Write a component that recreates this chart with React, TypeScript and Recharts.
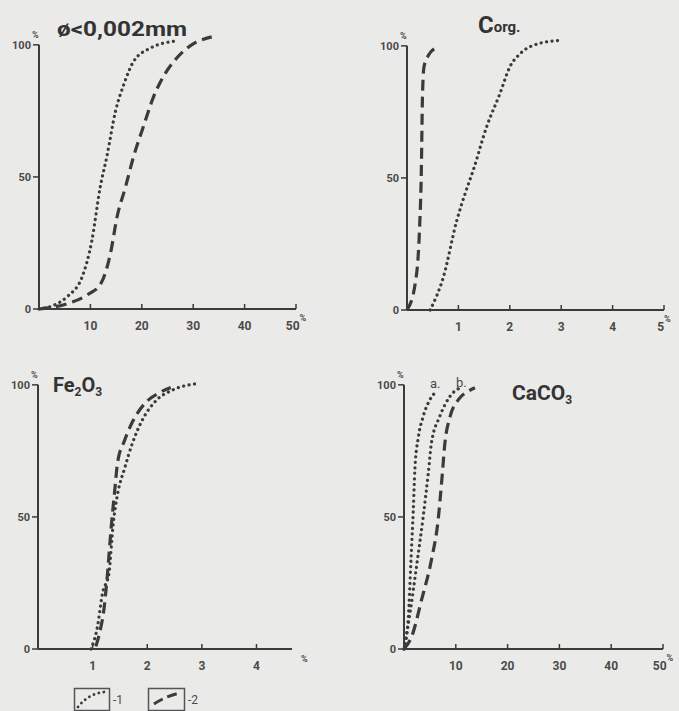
import { LineChart, Line, XAxis, YAxis, ReferenceLine } from 'recharts';

type Pt = { x: number; y: number };

const INK = '#3b3b3b';
const TXT = '#4a4a4a';
const BG = '#eaeae8';
const Y_MAX = 106; // a little room above 100 so the curve ends are not cut

const p = (pairs: number[][]): Pt[] => pairs.map(([x, y]) => ({ x, y }));

// ø < 0,002 mm
const clayDotted = p([[0, 0], [3, 1.5], [5.5, 4.7], [8.4, 12.2], [10.3, 26], [11.9, 46], [13.2, 57.7], [14.9, 75], [16.5, 85], [18.4, 93.7], [21.6, 98.7], [26.8, 101.5]]);
const clayDashed = p([[0, 0], [5.5, 2], [9.5, 5.5], [12, 9.5], [13.9, 21], [15.2, 35], [16.8, 46], [18.4, 57.7], [20.3, 69], [22.3, 80.4], [24.2, 88], [26.8, 95], [29.7, 100], [33.6, 103]]);
const clayTicks = [10, 20, 30, 40, 50];

// C org.
const corgDotted = p([[0.45, 0], [0.71, 12.6], [0.97, 34], [1.13, 44], [1.29, 53], [1.55, 69.4], [1.81, 82], [2.0, 92], [2.2, 97], [2.59, 101], [2.94, 102]]);
const corgDashed = p([[0, 0], [0.16, 10], [0.24, 29], [0.28, 54], [0.3, 80], [0.33, 92], [0.42, 96.5], [0.54, 99]]);
const corgTicks = [1, 2, 3, 4, 5];

// Fe2O3
const feDotted = p([[0.97, 0], [1.09, 8.6], [1.18, 21], [1.3, 28.7], [1.37, 46], [1.46, 59], [1.58, 68], [1.73, 78], [1.91, 86.7], [2.16, 94], [2.46, 98], [2.92, 100.5]]);
const feDashed = p([[1.06, 1], [1.12, 5.5], [1.21, 15.5], [1.27, 28], [1.34, 46], [1.4, 59], [1.46, 71], [1.58, 78.7], [1.73, 86], [1.98, 93.5], [2.22, 97], [2.43, 99]]);
const feTicks = [1, 2, 3, 4];

// CaCO3 (a, b dotted)
const caDottedA = p([[0, 0], [0.8, 11], [1.35, 34], [1.8, 53], [2.1, 68], [2.8, 80.5], [3.7, 88], [5.0, 94.4], [6.3, 97.6]]);
const caDottedB = p([[0, 0], [1.16, 13.6], [2.4, 31], [3.7, 50], [4.7, 66.7], [5.3, 78], [6.9, 88], [8.9, 95.7], [10.8, 98.9]]);
const caDashed = p([[0, 0], [1.5, 4.8], [3.4, 18.7], [5.3, 33.8], [6.6, 49], [7.3, 64], [7.9, 78], [8.9, 88], [10.5, 94.4], [12.4, 97.6], [13.7, 98.9]]);
const caTicks = [10, 20, 30, 40, 50];

const yTicks = [0, 50, 100];

const tickFont = { fontFamily: 'Roboto, "Liberation Sans", sans-serif', fontWeight: 700, fontSize: 12, fill: TXT };

const XTick = (props: any) => {
  const { x, y, payload, pct } = props;
  return (
    <g>
      <line x1={x} x2={x} y1={y} y2={y - 5} stroke={INK} strokeWidth={1.5} />
      <text x={x} y={y + 21} textAnchor="middle" {...tickFont}>
        {payload.value}
        {pct === payload.value && <tspan dx={0} dy={-9} fontSize={9}>%</tspan>}
      </text>
    </g>
  );
};

const YTick = (props: any) => {
  const { x, y, payload } = props;
  return (
    <g>
      <line x1={x - 6} x2={x} y1={y} y2={y} stroke={INK} strokeWidth={1.5} />
      <text x={x - 8} y={y + 4} textAnchor="end" {...tickFont} fontSize={11}>{payload.value}</text>
      {payload.value === 100 && <text x={x - 7} y={y - 7} {...tickFont} fontSize={9}>%</text>}
    </g>
  );
};

type PanelProps = {
  left: number; top: number; width: number; height: number;
  yAxisW: number; mTop: number; mRight: number;
  xMax: number; xTicks: number[]; pct?: number;
  dotted: Pt[][]; dashed: Pt[][];
};

function Panel(pp: PanelProps) {
  return (
    <div style={{ position: 'absolute', left: pp.left, top: pp.top }}>
      <LineChart width={pp.width} height={pp.height} margin={{ top: pp.mTop, right: pp.mRight, bottom: 0, left: 0 }}>
        <XAxis type="number" dataKey="x" domain={[0, pp.xMax]} ticks={pp.xTicks} height={30}
          tickSize={0} tickMargin={0} tickLine={false} axisLine={{ stroke: INK, strokeWidth: 2 }}
          tick={(t: any) => <XTick {...t} pct={pp.pct} />} interval={0} />
        <YAxis type="number" domain={[0, Y_MAX]} ticks={yTicks} width={pp.yAxisW}
          tickSize={0} tickMargin={0} tickLine={false} axisLine={false}
          tick={(t: any) => <YTick {...t} />} interval={0} />
        <ReferenceLine segment={[{ x: 0, y: 0 }, { x: 0, y: 100 }]} stroke={INK} strokeWidth={2} />
        {pp.dotted.map((d, i) => (
          <Line key={'dot' + i} data={d} dataKey="y" type="monotone" dot={false} stroke={INK}
            strokeWidth={3.2} strokeDasharray="0.1 5.4" strokeLinecap="round" isAnimationActive={false} />
        ))}
        {pp.dashed.map((d, i) => (
          <Line key={'dash' + i} data={d} dataKey="y" type="monotone" dot={false} stroke={INK}
            strokeWidth={3.2} strokeDasharray="11 6" isAnimationActive={false} />
        ))}
      </LineChart>
    </div>
  );
}

const titleFont = { fontFamily: 'Roboto, "Liberation Sans", sans-serif', fontWeight: 700, fill: '#333' };

export default function App() {
  return (
    <div style={{ position: 'absolute', left: 0, top: 0, width: 679, height: 711, background: BG, overflow: 'hidden' }}>
      <Panel left={0} top={0} width={320} height={339} yAxisW={39} mTop={29} mRight={24}
        xMax={50} xTicks={clayTicks} pct={50} dotted={[clayDotted]} dashed={[clayDashed]} />
      <Panel left={341} top={0} width={338} height={340} yAxisW={66} mTop={30} mRight={15}
        xMax={5} xTicks={corgTicks} pct={5} dotted={[corgDotted]} dashed={[corgDashed]} />
      <Panel left={0} top={340} width={312} height={339} yAxisW={38} mTop={29} mRight={20}
        xMax={4.65} xTicks={feTicks} dotted={[feDotted]} dashed={[feDashed]} />
      <Panel left={340} top={340} width={339} height={339} yAxisW={64} mTop={29} mRight={16}
        xMax={50} xTicks={caTicks} pct={50} dotted={[caDottedA, caDottedB]} dashed={[caDashed]} />

      <svg width={679} height={711} style={{ position: 'absolute', left: 0, top: 0, pointerEvents: 'none' }}>
        <text x={57} y={36} fontSize={21} textLength={130} lengthAdjust="spacingAndGlyphs" {...titleFont}>ø&lt;0,002mm</text>
        <text x={478} y={33} {...titleFont}>
          <tspan fontSize={24}>C</tspan>
          <tspan fontSize={15} dy={-1}>org.</tspan>
        </text>
        <text x={53} y={392} {...titleFont}>
          <tspan fontSize={20}>Fe</tspan>
          <tspan fontSize={12} dy={4}>2</tspan>
          <tspan fontSize={20} dy={-4}>O</tspan>
          <tspan fontSize={12} dy={4}>3</tspan>
        </text>
        <text x={512} y={400} {...titleFont}>
          <tspan fontSize={21}>CaCO</tspan>
          <tspan fontSize={12} dy={4}>3</tspan>
        </text>
        <text x={430} y={388} {...tickFont} fontSize={13} fontWeight={400}>a.</text>
        <text x={456} y={387} {...tickFont} fontSize={13} fontWeight={400}>b.</text>
        <text x={301} y={662} {...tickFont} fontSize={9}>%</text>

        <rect x={74.5} y={688.5} width={35} height={22} fill="none" stroke="#555" strokeWidth={1.5} />
        <path d="M78 707 Q 88 694 104 692" fill="none" stroke={INK} strokeWidth={2.8} strokeDasharray="0.1 5" strokeLinecap="round" />
        <text x={113} y={704} {...tickFont} fontWeight={400}>-1</text>
        <rect x={148.5} y={688.5} width={36} height={22} fill="none" stroke="#555" strokeWidth={1.5} />
        <path d="M154 704 Q 166 696 180 693" fill="none" stroke={INK} strokeWidth={3} strokeDasharray="10 5" />
        <text x={188} y={704} {...tickFont} fontWeight={400}>-2</text>
      </svg>
    </div>
  );
}
